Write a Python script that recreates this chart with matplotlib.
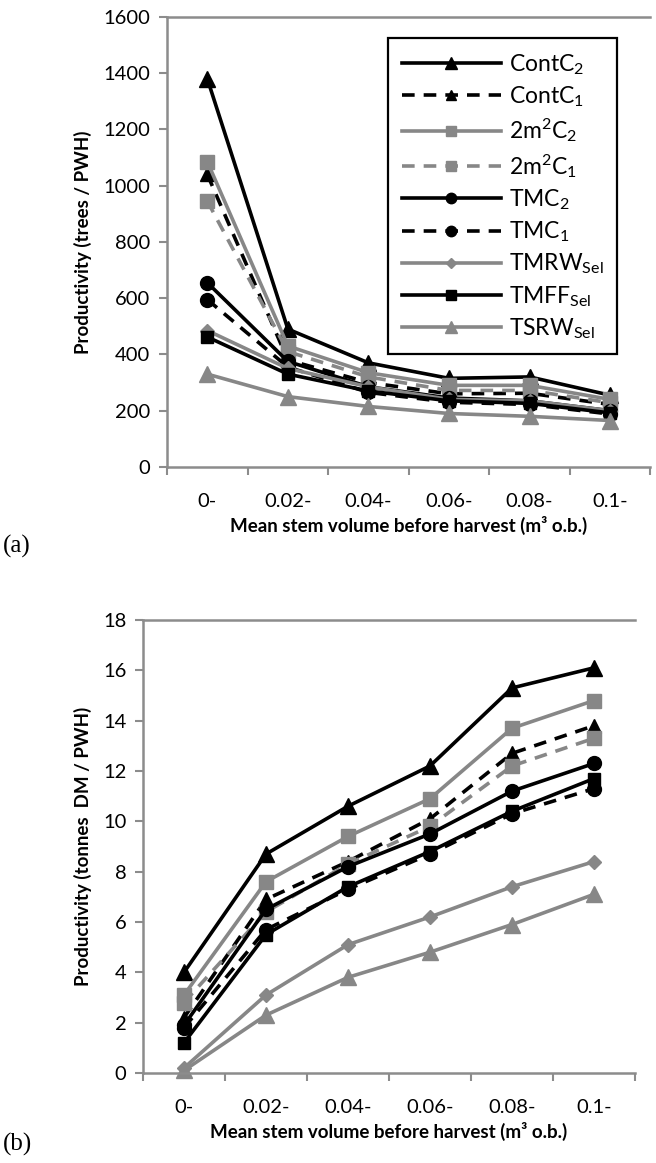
import matplotlib
matplotlib.use("Agg")
import matplotlib.pyplot as plt

# ---------------- Data ----------------
classes = ["0-", "0.02-", "0.04-", "0.06-", "0.08-", "0.1-"]

series_names = ["ContC2", "ContC1", "2m2C2", "2m2C1", "TMC2", "TMC1",
                "TMRWSel", "TMFFSel", "TSRWSel"]
legend_labels = ["ContC$\\mathregular{_2}$", "ContC$\\mathregular{_1}$",
                 "2m$\\mathregular{^2}$C$\\mathregular{_2}$",
                 "2m$\\mathregular{^2}$C$\\mathregular{_1}$",
                 "TMC$\\mathregular{_2}$", "TMC$\\mathregular{_1}$",
                 "TMRW$\\mathregular{_{Sel}}$", "TMFF$\\mathregular{_{Sel}}$",
                 "TSRW$\\mathregular{_{Sel}}$"]

# (a) trees / PWH
trees = {
    "ContC2":  [1380, 490, 370, 315, 320, 255],
    "ContC1":  [1040, 380, 300, 260, 262, 222],
    "2m2C2":   [1085, 430, 335, 290, 290, 240],
    "2m2C1":   [945, 410, 320, 272, 272, 228],
    "TMC2":    [655, 375, 285, 245, 235, 200],
    "TMC1":    [595, 355, 265, 230, 222, 188],
    "TMRWSel": [485, 350, 285, 240, 235, 200],
    "TMFFSel": [462, 330, 270, 235, 226, 192],
    "TSRWSel": [330, 250, 215, 190, 180, 165],
}

# (b) tonnes DM / PWH
tonnes = {
    "ContC2":  [4.0, 8.7, 10.6, 12.2, 15.3, 16.1],
    "ContC1":  [2.2, 6.9, 8.4, 10.1, 12.7, 13.8],
    "2m2C2":   [3.1, 7.6, 9.4, 10.9, 13.7, 14.8],
    "2m2C1":   [2.8, 6.4, 8.3, 9.8, 12.2, 13.3],
    "TMC2":    [1.9, 6.5, 8.2, 9.5, 11.2, 12.3],
    "TMC1":    [1.8, 5.7, 7.3, 8.7, 10.3, 11.3],
    "TMRWSel": [0.2, 3.1, 5.1, 6.2, 7.4, 8.4],
    "TMFFSel": [1.2, 5.5, 7.4, 8.8, 10.4, 11.7],
    "TSRWSel": [0.1, 2.3, 3.8, 4.8, 5.9, 7.1],
}

# ---------------- Styles ----------------
BLACK = "#000000"
GREY = "#878787"
DASH = (0, (3.5, 2.5))
styles = {
    "ContC2":  dict(color=BLACK, ls="-", marker="^", ms=11),
    "ContC1":  dict(color=BLACK, ls=DASH, marker="^", ms=10),
    "2m2C2":   dict(color=GREY, ls="-", marker="s", ms=10),
    "2m2C1":   dict(color=GREY, ls=DASH, marker="s", ms=10),
    "TMC2":    dict(color=BLACK, ls="-", marker="o", ms=10),
    "TMC1":    dict(color=BLACK, ls=DASH, marker="o", ms=10),
    "TMRWSel": dict(color=GREY, ls="-", marker="D", ms=7),
    "TMFFSel": dict(color=BLACK, ls="-", marker="s", ms=9),
    "TSRWSel": dict(color=GREY, ls="-", marker="^", ms=11),
}

plt.rcParams["font.family"] = ["Lato", "DejaVu Sans"]
plt.rcParams["mathtext.fontset"] = "custom"
plt.rcParams["mathtext.rm"] = "Lato"

AXIS_GREY = "#8c8c8c"


def style_axes(ax, ymax, ystep, ylabel):
    n = len(classes)
    ax.set_xlim(0, n)
    ax.set_ylim(0, ymax)
    ax.set_xticks(range(n + 1))
    ax.set_xticklabels([])
    ax.set_xticks([i + 0.5 for i in range(n)], minor=True)
    ax.set_xticklabels(classes, minor=True)
    ax.tick_params(axis="x", which="major", length=6, width=1.5, color=AXIS_GREY, direction="out")
    ax.tick_params(axis="x", which="minor", length=0, pad=19, labelsize=14.5)
    ax.set_yticks(range(0, ymax + 1, ystep))
    ax.tick_params(axis="y", length=6, width=1.5, color=AXIS_GREY, direction="out", labelsize=14.5, pad=6)
    for side in ["left", "bottom", "top"]:
        ax.spines[side].set_color(AXIS_GREY)
        ax.spines[side].set_linewidth(1.8)
    ax.spines["right"].set_visible(False)
    ax.set_ylabel(ylabel, fontsize=13.5, fontweight="bold", labelpad=8)
    ax.set_xlabel("Mean stem volume before harvest (m³ o.b.)", fontsize=13.5,
                  fontweight="bold", labelpad=4)


fig = plt.figure(figsize=(6.56, 11.63), dpi=100)
ax_a = fig.add_axes([0.2546, 0.5985, 0.737, 0.387])
ax_b = fig.add_axes([0.218, 0.0774, 0.750, 0.3895])

x = [i + 0.5 for i in range(len(classes))]
for name, lab in zip(series_names, legend_labels):
    st = styles[name]
    for ax, data in [(ax_a, trees), (ax_b, tonnes)]:
        ax.plot(x, data[name], color=st["color"], linestyle=st["ls"], linewidth=2.6,
                marker=st["marker"], markersize=st["ms"], markeredgecolor=st["color"],
                markerfacecolor=st["color"], label=lab, clip_on=False)

style_axes(ax_a, 1600, 200, "Productivity (trees / PWH)")
style_axes(ax_b, 18, 2, "Productivity (tonnes  DM / PWH)")

leg = ax_a.legend(loc="upper left", bbox_to_anchor=(0.458, 0.952), borderaxespad=0,
                  fancybox=False, frameon=True, framealpha=1, edgecolor="black",
                  fontsize=16.5, handlelength=4.3, handletextpad=0.35, labelspacing=0.33,
                  markerscale=0.75, borderpad=0.6)
leg.get_frame().set_linewidth(1.6)
leg.set_zorder(1)

fig.text(0.005, 0.530, "(a)", fontsize=18, family="Liberation Serif", va="center")
fig.text(0.005, 0.016, "(b)", fontsize=18, family="Liberation Serif", va="center")

fig.savefig("out.png", dpi=100)
